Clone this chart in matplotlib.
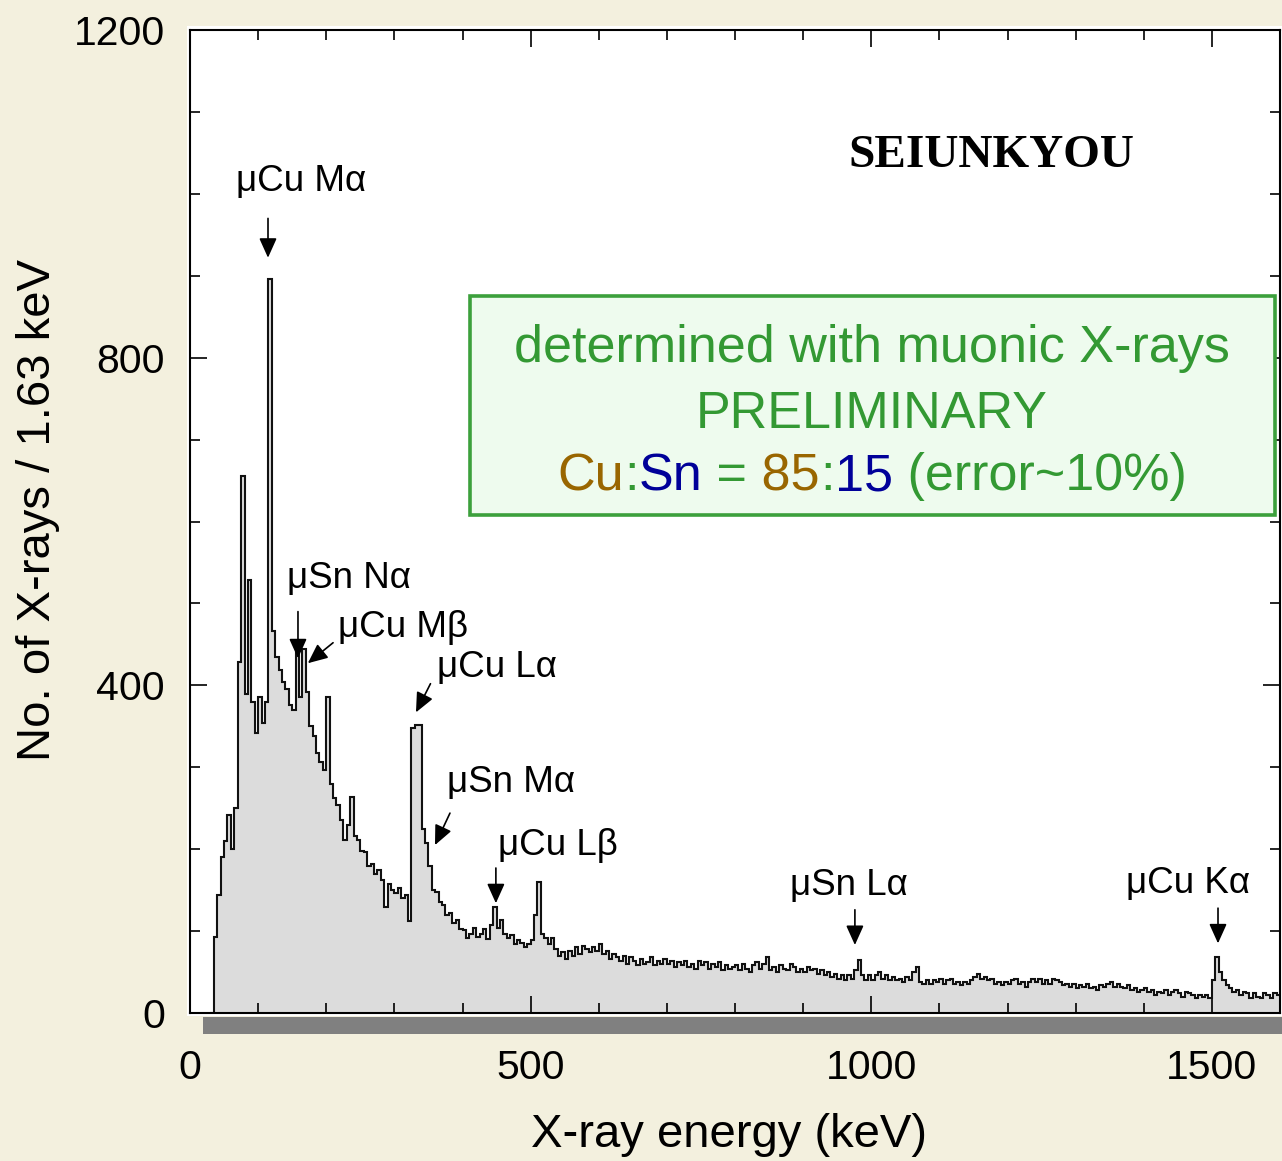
import numpy as np
import matplotlib.pyplot as plt
from matplotlib.patches import Rectangle

plt.rcParams['font.family'] = ['Liberation Sans', 'DejaVu Sans']

# ---------------------------------------------------------------------------
# Spectrum: counts per 5 keV bin, first bin starts at 30 keV
# ---------------------------------------------------------------------------
bin_start = 30
bin_width = 5
counts = np.array([
    0, 93, 144, 190, 210, 242, 200, 250, 428, 655, 390, 529, 380, 342,                        # 30-100
    386, 354, 380, 896, 466, 435, 419, 404, 396, 376, 370, 446, 386, 444, 392, 350, 338, 318, 306, 297,  # 100-200
    386, 280, 262, 254, 236, 211, 230, 264, 216, 211, 198, 196, 180, 182, 170, 174, 162, 130, 158, 150,  # 200-300
    147, 152, 140, 144, 112, 348, 352, 352, 225, 207, 179, 150, 148, 136, 132, 120, 122, 110, 114, 102,  # 300-400
    101, 92, 96, 104, 93, 97, 103, 90, 108, 130, 104, 114, 96, 92, 95, 84, 89, 86, 80, 84,    # 400-500
    89, 120, 160, 96, 91, 84, 92, 78, 70, 74, 66, 76, 70, 80, 72, 82, 78, 74, 80, 76,         # 500-600
    84, 72, 76, 66, 72, 68, 64, 70, 60, 68, 64, 58, 66, 60, 62, 68, 58, 64, 60, 66,           # 600-700
    60, 64, 56, 62, 58, 64, 56, 60, 54, 64, 58, 62, 54, 60, 56, 62, 52, 58, 54, 56,           # 700-800
    58, 52, 60, 54, 50, 58, 62, 54, 60, 68, 52, 56, 50, 58, 54, 52, 60, 56, 50, 54,           # 800-900
    50, 56, 52, 54, 48, 52, 46, 50, 44, 48, 42, 46, 40, 46, 42, 52, 65, 46, 40, 46,           # 900-1000
    40, 46, 50, 42, 46, 40, 44, 40, 42, 38, 44, 40, 50, 56, 38, 36, 40, 36, 40, 38,           # 1000-1100
    42, 36, 40, 42, 36, 38, 34, 38, 36, 40, 44, 48, 42, 44, 40, 42, 36, 38, 34, 38,           # 1100-1200
    36, 40, 42, 36, 38, 32, 38, 42, 38, 42, 36, 40, 36, 42, 40, 38, 34, 36, 32, 36,           # 1200-1300
    30, 34, 32, 36, 30, 32, 28, 34, 32, 36, 38, 32, 36, 32, 30, 34, 28, 30, 26, 28,           # 1300-1400
    30, 26, 28, 22, 26, 24, 28, 22, 26, 28, 24, 20, 26, 24, 22, 18, 22, 20, 22, 18,           # 1400-1500
    40, 68, 50, 40, 34, 30, 26, 28, 22, 26, 24, 18, 24, 20, 18, 24, 22, 18, 24, 22,           # 1500-1600
])
edges = bin_start + bin_width * np.arange(len(counts) + 1)

# peak labels: text anchor (left, baseline) and arrow tail -> tip
peak_labels = ["μCu Mα", "μSn Nα", "μCu Mβ", "μCu Lα",
               "μSn Mα", "μCu Lβ", "μSn Lα", "μCu Kα"]
label_pos = [(67.5, 1004), (142, 519), (217, 459), (362.6, 410),
             (377, 270), (452, 193), (880.7, 144), (1374, 146.5)]
arrow_tail = [(114.5, 970), (158.5, 490), (210, 452), (353, 402),
              (381.6, 244), (449, 177), (976, 126), (1509, 128)]
arrow_tip = [(114.5, 922), (158.5, 433), (173, 427), (331.7, 367),
             (359.6, 205), (449, 134), (976, 83), (1509, 85)]

ratio_parts = ["Cu", ":", "Sn", " =", " 85", ":", "15", " (error~10%)"]
ratio_kind = ["cu", "txt", "sn", "txt", "cu", "txt", "sn", "txt"]

green = '#339933'
kind_colors = {"cu": '#996600', "sn": '#000099', "txt": green}

# ---------------------------------------------------------------------------
# Figure
# ---------------------------------------------------------------------------
W, H = 1282, 1161
fig = plt.figure(figsize=(W / 100, H / 100), dpi=100, facecolor='#F3F0DE')
fig.add_artist(Rectangle((187 / W, 145 / H), 1095 / W, 990 / H,
                         transform=fig.transFigure, facecolor='white',
                         edgecolor='none', zorder=-1))
ax = fig.add_axes([190 / W, 148 / H, 1090 / W, 983 / H])
ax.set_facecolor('white')

ax.stairs(counts, edges, fill=True, color='#DCDCDC', zorder=1)
ax.stairs(counts, edges, color='#111111', lw=1.5, baseline=None, zorder=2)

ax.set_xlim(0, 1600)
ax.set_ylim(0, 1200)
ax.set_xticks([0, 500, 1000, 1500])
ax.set_xticks(np.arange(0, 1601, 100), minor=True)
ax.set_yticks([0, 400, 800, 1200])
ax.set_yticks(np.arange(0, 1201, 100), minor=True)
ax.tick_params(which='both', direction='in', top=True, right=True,
               width=1.2, color='black')
ax.tick_params(which='major', length=12)
ax.tick_params(which='minor', length=7.5)
ax.tick_params(axis='x', labelsize=29.5, pad=26)
ax.tick_params(axis='y', labelsize=29.5, pad=18)
for sp in ax.spines.values():
    sp.set_linewidth(1.5)

# grey strip under the energy axis
ax.add_patch(Rectangle((19, -0.0214), 1603 - 19, 0.0174,
                       transform=ax.get_xaxis_transform(),
                       facecolor='#808080', edgecolor='none', clip_on=False))

ax.set_xlabel("X-ray energy (keV)", fontsize=34)
ax.set_ylabel("No. of X-rays / 1.63 keV", fontsize=34)
ax.xaxis.set_label_coords(0.4945, -0.1017)
ax.yaxis.set_label_coords(-0.119, 0.512)

# peak annotations
for lab, lp, tail, tip in zip(peak_labels, label_pos, arrow_tail, arrow_tip):
    ax.text(lp[0], lp[1], lab, fontsize=26.5, ha='left', va='baseline', zorder=5)
    ax.annotate('', xy=tip, xytext=tail,
                arrowprops=dict(arrowstyle='-|>,head_length=0.4,head_width=0.18',
                                color='black', lw=1.2, shrinkA=0, shrinkB=0,
                                mutation_scale=30), zorder=5)

ax.text(1177, 1046, "SEIUNKYOU", family='Liberation Serif', weight='bold',
        fontsize=34, ha='center', va='center')

# result box
ax.add_patch(Rectangle((0.257, 0.5066), 0.7384, 0.2228, transform=ax.transAxes,
                       facecolor='#EEFBEE', edgecolor='#3CA03C', lw=2.6, zorder=3))
ax.text(0.6257, 0.6623, "determined with muonic X-rays", transform=ax.transAxes,
        fontsize=37.5, color=green, ha='center', va='baseline', zorder=4)
ax.text(0.6257, 0.5951, "PRELIMINARY", transform=ax.transAxes,
        fontsize=37.5, color=green, ha='center', va='baseline', zorder=4)

# coloured ratio line: chain the pieces, then centre the whole line
first = ax.text(0.6257, 0.532, ratio_parts[0], transform=ax.transAxes,
                fontsize=37.5, color=kind_colors[ratio_kind[0]],
                ha='left', va='baseline', zorder=4)
prev = first
for part, kind in zip(ratio_parts[1:], ratio_kind[1:]):
    prev = ax.annotate(part, xy=(1, 0), xycoords=prev, fontsize=37.5,
                       color=kind_colors[kind], ha='left', va='bottom', zorder=4)
fig.canvas.draw()
renderer = fig.canvas.get_renderer()
x_left = first.get_window_extent(renderer).x0
x_right = prev.get_window_extent(renderer).x1
ax_width_px = ax.get_window_extent(renderer).width
first.set_x(0.6257 - 0.5 * (x_right - x_left) / ax_width_px)

fig.savefig('out.png', dpi=100, facecolor=fig.get_facecolor())
